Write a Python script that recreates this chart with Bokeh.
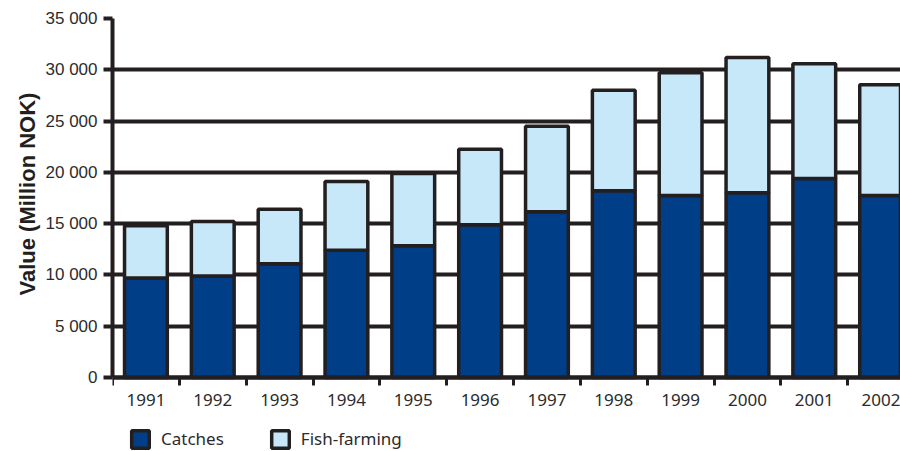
from bokeh.plotting import figure
from bokeh.models import Range1d, FixedTicker, Legend, LegendItem, ColumnDataSource, Title
from bokeh.embed import file_html
from bokeh.resources import INLINE

years = [1991, 1992, 1993, 1994, 1995, 1996, 1997, 1998, 1999, 2000, 2001, 2002]
year_labels = [str(y) for y in years]
catches = [9700, 9900, 11100, 12400, 12850, 14900, 16150, 18200, 17750, 18000, 19400, 17750]
fish_farming = [5100, 5300, 5300, 6700, 7050, 7350, 8350, 9800, 11950, 13200, 11200, 10800]
y_ticks = [0, 5000, 10000, 15000, 20000, 25000, 30000, 35000]
y_tick_labels = ["0", "5 000", "10 000", "15 000", "20 000", "25 000", "30 000", "35 000"]
series_names = ["Catches", "Fish-farming"]
y_title = "Value (Million NOK)"

INK = "#231f20"
DARK = "#003e87"
LIGHT = "#c6e8f9"

src = ColumnDataSource(dict(year=years, catches=catches, fish_farming=fish_farming))

# frame spans the full lower area; the value axis starts at 0 and the
# category axis is pinned at 0 so the legend can sit beneath it
p = figure(width=900, height=451,
           x_range=Range1d(years[0] - 0.5, years[-1] + 0.29),
           y_range=Range1d(-7215, 35000),
           output_backend="svg", toolbar_location=None,
           min_border_left=112, min_border_right=0, min_border_top=18, min_border_bottom=0)
p.outline_line_color = None
p.background_fill_color = "white"
p.border_fill_color = "white"

rs = p.vbar_stack(["catches", "fish_farming"], x="year", width=0.64, source=src,
                  fill_color=[DARK, LIGHT], line_color=INK, line_width=3.5)

# grid
p.xgrid.visible = False
p.ygrid.ticker = FixedTicker(ticks=y_ticks)
p.ygrid.grid_line_color = INK
p.ygrid.grid_line_width = 4

# x axis
xa = p.xaxis[0]
xa.fixed_location = 0
xa.ticker = FixedTicker(ticks=years, minor_ticks=[y - 0.5 for y in years] + [years[-1] + 0.5])
xa.major_label_overrides = {y: l for y, l in zip(years, year_labels)}
xa.major_tick_out = 0
xa.major_tick_in = 0
xa.minor_tick_out = 8
xa.minor_tick_in = 0
xa.minor_tick_line_width = 3
xa.minor_tick_line_color = INK
xa.axis_line_color = INK
xa.axis_line_width = 4
xa.major_label_text_font = "Noto Sans"
xa.major_label_text_font_size = "17px"
xa.major_label_text_color = "#2b2b2b"
xa.major_label_standoff = 9

# y axis
ya = p.yaxis[0]
ya.bounds = (0, 35000)
ya.ticker = FixedTicker(ticks=y_ticks)
ya.major_label_overrides = {t: l for t, l in zip(y_ticks, y_tick_labels)}
ya.minor_tick_line_color = None
ya.major_tick_out = 9
ya.major_tick_in = 0
ya.major_tick_line_width = 4
ya.major_tick_line_color = INK
ya.axis_line_color = INK
ya.axis_line_width = 4
ya.major_label_text_font = "Liberation Sans"
ya.major_label_text_font_size = "17px"
ya.major_label_text_color = "#2b2b2b"
ya.major_label_standoff = 6

# axis title, placed along the 0..35 000 span only
t = Title(text=y_title, align="left", offset=156, standoff=6,
          text_font="Liberation Sans", text_font_style="bold",
          text_font_size="22px", text_color=INK)
p.add_layout(t, "left")

legend = Legend(items=[LegendItem(label=series_names[0], renderers=[rs[0]]),
                       LegendItem(label=series_names[1], renderers=[rs[1]])],
                orientation="horizontal", location=(17, 1))
legend.glyph_width = 22
legend.glyph_height = 22
legend.label_text_font = "Noto Sans"
legend.label_text_font_size = "17px"
legend.label_text_color = "#2b2b2b"
legend.label_standoff = 10
legend.spacing = 45
legend.padding = 0
legend.margin = 0
legend.border_line_color = None
legend.background_fill_alpha = 0
p.add_layout(legend, "center")

open("out.html", "w").write(file_html(p, INLINE))
